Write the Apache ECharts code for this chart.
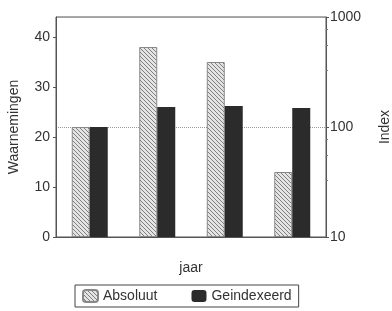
<!DOCTYPE html>
<html>
<head>
<meta charset="utf-8">
<script src="https://cdn.jsdelivr.net/npm/echarts@6/dist/echarts.min.js"></script>
<style>
  html, body { margin: 0; padding: 0; background: #fff; }
  #chart { width: 392px; height: 311px; }
</style>
</head>
<body>
<div id="chart"></div>
<script>
  // waarden
  var categories = ['1', '2', '3', '4']
  var absoluut = [22, 38, 35, 13]
  var geindexeerd = [100, 152, 155, 149]
  var leftTicks = [0, 10, 20, 30, 40]
  var rightTicks = [10, 100, 1000]

  // arcering voor de "Absoluut" balken
  function hatch() {
    var c = document.createElement('canvas')
    c.width = 4
    c.height = 4
    var ctx = c.getContext('2d')
    ctx.fillStyle = '#e4e4e4'
    ctx.fillRect(0, 0, 4, 4)
    ctx.strokeStyle = '#808080'
    ctx.lineWidth = 1
    ctx.beginPath()
    ctx.moveTo(0, 0); ctx.lineTo(4, 4)
    ctx.moveTo(-1, 3); ctx.lineTo(1, 5)
    ctx.moveTo(3, -1); ctx.lineTo(5, 1)
    ctx.stroke()
    return { image: c, repeat: 'repeat' }
  }

  var myChart = echarts.init(document.getElementById('chart'))
  var txt = { color: '#333', fontFamily: 'Liberation Sans, Arial, sans-serif', fontSize: 14 }

  var option = {
    animation: false,
    grid: {
      left: 56, right: 66, top: 17, bottom: 74,
      outerBoundsMode: 'none',
      containLabel: false,
      show: true, borderColor: '#555', borderWidth: 1
    },
    legend: {
      left: 75, top: 285,
      padding: [4, 7],
      itemGap: 34,
      itemWidth: 15, itemHeight: 12,
      borderColor: '#444', borderWidth: 1, borderRadius: 0,
      textStyle: txt,
      data: ['Absoluut', 'Geindexeerd']
    },
    xAxis: {
      type: 'category',
      data: categories,
      name: 'jaar',
      nameLocation: 'middle',
      nameGap: 24,
      nameTextStyle: txt,
      axisLine: { lineStyle: { color: '#555' } },
      axisTick: { inside: true, length: 3, lineStyle: { color: '#555' } },
      axisLabel: { show: false }
    },
    yAxis: [{
      type: 'value',
      min: 0, max: 44, interval: 10,
      name: 'Waarnemingen',
      nameLocation: 'middle',
      nameRotate: 90,
      nameGap: 35,
      nameTextStyle: txt,
      axisLine: { show: true, lineStyle: { color: '#555' } },
      axisTick: { show: true, length: 3, lineStyle: { color: '#555' } },
      axisLabel: Object.assign({ margin: 6, showMaxLabel: false,
        formatter: function (v) { return leftTicks.indexOf(v) >= 0 ? v : '' } }, txt),
      splitLine: { show: false }
    }, {
      type: 'log',
      logBase: 10,
      min: 10, max: 1000,
      position: 'right',
      name: 'Index',
      nameLocation: 'middle',
      nameRotate: 90,
      nameGap: 52,
      nameTextStyle: txt,
      axisLine: { show: true, lineStyle: { color: '#555' } },
      axisTick: { show: true, length: 3, lineStyle: { color: '#555' } },
      minorTick: { show: true, splitNumber: 4, length: 2, lineStyle: { color: '#777' } },
      axisLabel: Object.assign({ margin: 4,
        formatter: function (v) { return rightTicks.indexOf(v) >= 0 ? v : '' } }, txt),
      splitLine: { show: true, lineStyle: { color: '#999', type: 'dotted' } }
    }],
    series: [{
      name: 'Absoluut',
      type: 'bar',
      yAxisIndex: 0,
      barWidth: 18,
      barGap: '0%',
      itemStyle: { color: hatch(), borderColor: '#888', borderWidth: 1 },
      data: absoluut
    }, {
      name: 'Geindexeerd',
      type: 'bar',
      yAxisIndex: 1,
      barWidth: 18,
      barGap: '0%',
      itemStyle: { color: '#2b2b2b' },
      data: geindexeerd
    }]
  }
  myChart.setOption(option)
</script>
</body>
</html>
